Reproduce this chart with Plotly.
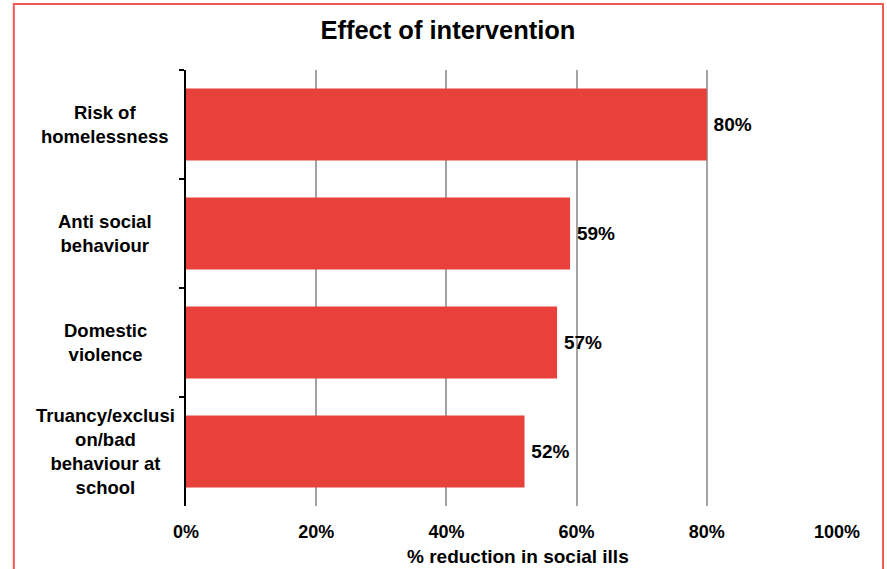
import plotly.graph_objects as go

categories = ["Risk of homelessness", "Anti social behaviour", "Domestic violence",
              "Truancy/exclusion/bad behaviour at school"]
category_labels = ["Risk of<br>homelessness", "Anti social<br>behaviour", "Domestic<br>violence",
                   "Truancy/exclusi<br>on/bad<br>behaviour at<br>school"]
values = [80, 59, 57, 52]
x_ticks = [0, 20, 40, 60, 80, 100]

FONT = "Liberation Sans, Arial, Helvetica, sans-serif"
BAR = "#e8403a"

fig = go.Figure()
fig.add_trace(go.Bar(
    y=categories, x=values, orientation="h",
    marker=dict(color=BAR, line=dict(width=0)),
    text=[f"\u2009<b>{v}%</b>" for v in values], textposition="outside",
    textfont=dict(size=19, color="black", family=FONT),
    cliponaxis=False, width=0.66,
))

for cat, lab in zip(categories, category_labels):
    fig.add_annotation(x=-0.1244, xref="paper", y=cat, yref="y", text=f"<b>{lab}</b>",
                       showarrow=False, xanchor="center", yanchor="middle", align="center",
                       font=dict(size=18.5, color="black", family=FONT))

# x-axis title
fig.add_annotation(x=0.51, xref="paper", y=-0.1147, yref="paper", text="<b>% reduction in social ills</b>",
                   showarrow=False, xanchor="center", yanchor="middle",
                   font=dict(size=19, color="black", family=FONT))

# outer border
fig.add_shape(type="rect", xref="paper", yref="paper", x0=-0.2645, x1=1.0707, y0=-0.2, y1=1.1514,
              line=dict(color="#ef5b52", width=2), fillcolor="rgba(0,0,0,0)", layer="below")

fig.update_layout(
    width=887, height=569,
    margin=dict(l=186, r=50, t=70, b=63),
    paper_bgcolor="white", plot_bgcolor="white",
    showlegend=False,
    font=dict(family=FONT, color="black", size=18),
    title=dict(text="<b>Effect of intervention</b>", x=0.505, xref="container", xanchor="center",
               y=0.947, yref="container", yanchor="middle", font=dict(size=25.5, color="black", family=FONT)),
    xaxis=dict(range=[0, 100], tickvals=x_ticks, ticktext=[f"<b>{t}%</b>" for t in x_ticks],
               showgrid=True, gridcolor="#a3a3a3", gridwidth=2, zeroline=False, showline=False,
               ticks="", ticklabelstandoff=13, tickfont=dict(size=18, color="black", family=FONT),
               automargin=False),
    yaxis=dict(categoryorder="array", categoryarray=categories, autorange="reversed",
               showticklabels=False, showline=True, linecolor="black", linewidth=2,
               ticks="outside", tickson="boundaries", ticklen=5, tickwidth=2, tickcolor="black",
               showgrid=False, zeroline=False, automargin=False),
)

fig.write_html("out.html")
